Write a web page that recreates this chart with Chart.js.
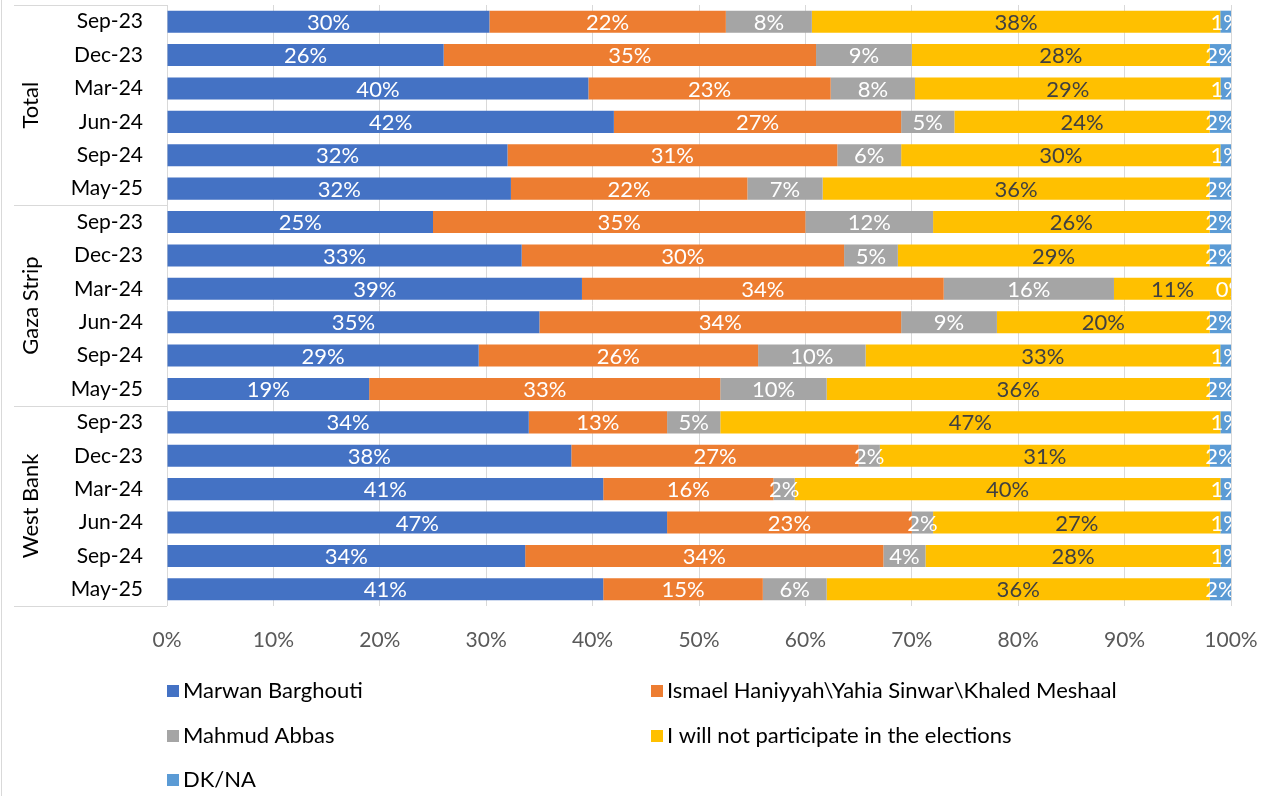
<!DOCTYPE html>
<html>
<head>
<meta charset="utf-8">
<script src="https://cdn.jsdelivr.net/npm/chart.js@4.4.1/dist/chart.umd.min.js"></script>
<style>
  body { margin: 0; background: #fff; }
  #wrap { width: 1268px; height: 796px; position: relative; }
</style>
</head>
<body>
<div id="wrap"><canvas id="pollChart"></canvas></div>
<script>
var dates = ["Sep-23", "Dec-23", "Mar-24", "Jun-24", "Sep-24", "May-25"];
var regions = ["Total", "Gaza Strip", "West Bank"];
var seriesNames = ["Marwan Barghouti", "Ismael Haniyyah\\Yahia Sinwar\\Khaled Meshaal", "Mahmud Abbas", "I will not participate in the elections", "DK/NA"];
var seriesColors = ["#4472C4", "#ED7D31", "#A5A5A5", "#FFC000", "#5B9BD5"];
var labelColors = ["#ffffff", "#ffffff", "#ffffff", "#404040", "#ffffff"];

// rows: Total x6, Gaza Strip x6, West Bank x6
var barghouti = [30, 26, 40, 42, 32, 32, 25, 33, 39, 35, 29, 19, 34, 38, 41, 47, 34, 41];
var hamasLeader = [22, 35, 23, 27, 31, 22, 35, 30, 34, 34, 26, 33, 13, 27, 16, 23, 34, 15];
var abbas = [8, 9, 8, 5, 6, 7, 12, 5, 16, 9, 10, 10, 5, 2, 2, 2, 4, 6];
var noVote = [38, 28, 29, 24, 30, 36, 26, 29, 11, 20, 33, 36, 47, 31, 40, 27, 28, 36];
var dkna = [1, 2, 1, 2, 1, 2, 2, 2, 0, 2, 1, 2, 1, 2, 1, 1, 1, 2];

var xTicks = [0, 10, 20, 30, 40, 50, 60, 70, 80, 90, 100];

var FONT = "Lato, 'Liberation Sans', sans-serif";
var series = [barghouti, hamasLeader, abbas, noVote, dkna];

var rowLabels = [];
regions.forEach(function () { dates.forEach(function (d) { rowLabels.push(d); }); });

// 100% stacked: each row scaled to its own total
var rowTotals = rowLabels.map(function (_, i) {
    return series.reduce(function (s, arr) { return s + arr[i]; }, 0);
});

var datasets = series.map(function (arr, k) {
    return {
        label: seriesNames[k],
        data: arr.map(function (v, i) { return v / rowTotals[i] * 100; }),
        raw: arr,
        backgroundColor: seriesColors[k],
        borderWidth: 0,
        barPercentage: 0.66,
        categoryPercentage: 1
    };
});

var segmentLabels = {
    id: 'segmentLabels',
    afterDatasetsDraw: function (chart) {
        var ctx = chart.ctx, area = chart.chartArea;
        ctx.save();
        ctx.beginPath();
        ctx.rect(area.left, area.top, area.right - area.left, area.bottom - area.top);
        ctx.clip();
        ctx.font = "22px " + FONT;
        ctx.textAlign = 'center';
        ctx.textBaseline = 'middle';
        chart.data.datasets.forEach(function (ds, k) {
            var meta = chart.getDatasetMeta(k);
            ctx.fillStyle = labelColors[k];
            meta.data.forEach(function (bar, i) {
                var cx = (bar.x + bar.base) / 2;
                ctx.fillText(ds.raw[i] + '%', cx, bar.y + 1);
            });
        });
        ctx.restore();
    }
};

var groupAxis = {
    id: 'groupAxis',
    afterDraw: function (chart) {
        var ctx = chart.ctx, y = chart.scales.y, area = chart.chartArea;
        var rowH = y.getPixelForValue(1) - y.getPixelForValue(0);
        ctx.save();
        ctx.strokeStyle = '#d9d9d9';
        ctx.lineWidth = 1;
        // outer frame edge
        ctx.beginPath();
        ctx.moveTo(1.5, 0);
        ctx.lineTo(1.5, chart.height);
        ctx.stroke();
        for (var g = 0; g <= regions.length; g++) {
            var yy = Math.round(y.getPixelForValue(g * dates.length) - rowH / 2) + 0.5;
            ctx.beginPath();
            ctx.moveTo(14, yy);
            ctx.lineTo(area.left, yy);
            ctx.stroke();
        }
        ctx.fillStyle = '#000';
        ctx.font = "22px " + FONT;
        ctx.textAlign = 'center';
        ctx.textBaseline = 'middle';
        regions.forEach(function (r, g) {
            var top = y.getPixelForValue(g * dates.length) - rowH / 2;
            var bottom = y.getPixelForValue((g + 1) * dates.length - 1) + rowH / 2;
            ctx.save();
            ctx.translate(31, (top + bottom) / 2);
            ctx.rotate(-Math.PI / 2);
            ctx.fillText(r, 0, 0);
            ctx.restore();
        });
        ctx.restore();
    }
};

var sideLegend = {
    id: 'sideLegend',
    afterDraw: function (chart) {
        var ctx = chart.ctx;
        var cols = [167, 651], rows = [691, 736, 780];
        ctx.save();
        ctx.font = "22px " + FONT;
        ctx.textBaseline = 'middle';
        ctx.textAlign = 'left';
        chart.data.datasets.forEach(function (ds, k) {
            var x = cols[k % 2], yy = rows[Math.floor(k / 2)];
            ctx.fillStyle = ds.backgroundColor;
            ctx.fillRect(x, yy - 6, 12, 12);
            ctx.fillStyle = '#000';
            ctx.fillText(ds.label, x + 16, yy);
        });
        ctx.restore();
    }
};

var ctx = document.getElementById('pollChart');
var pollChart = new Chart(ctx, {
    type: 'bar',
    data: { labels: rowLabels, datasets: datasets },
    options: {
        indexAxis: 'y',
        responsive: true,
        maintainAspectRatio: false,
        animation: false,
        layout: { padding: { left: 0, right: 37, top: 5, bottom: 0 } },
        plugins: {
            legend: { display: false },
            tooltip: { enabled: false }
        },
        scales: {
            x: {
                stacked: true,
                min: 0,
                max: 100,
                afterBuildTicks: function (scale) {
                    scale.ticks = xTicks.map(function (v) { return { value: v }; });
                },
                afterFit: function (scale) {
                    scale.height = 190;
                    scale.paddingLeft = 0;
                    scale.paddingRight = 0;
                },
                grid: { color: '#d9d9d9', drawTicks: false },
                border: { display: false },
                ticks: {
                    padding: 22,
                    color: '#595959',
                    font: { family: FONT, size: 21 },
                    callback: function (v) { return v + '%'; }
                }
            },
            y: {
                stacked: true,
                afterFit: function (scale) {
                    scale.width = 167;
                    scale.paddingTop = 0;
                    scale.paddingBottom = 0;
                },
                grid: { display: false, drawTicks: false },
                border: { display: false },
                ticks: {
                    padding: 24,
                    color: '#000',
                    font: { family: FONT, size: 21 }
                }
            }
        }
    },
    plugins: [segmentLabels, groupAxis, sideLegend]
});
</script>
</body>
</html>
